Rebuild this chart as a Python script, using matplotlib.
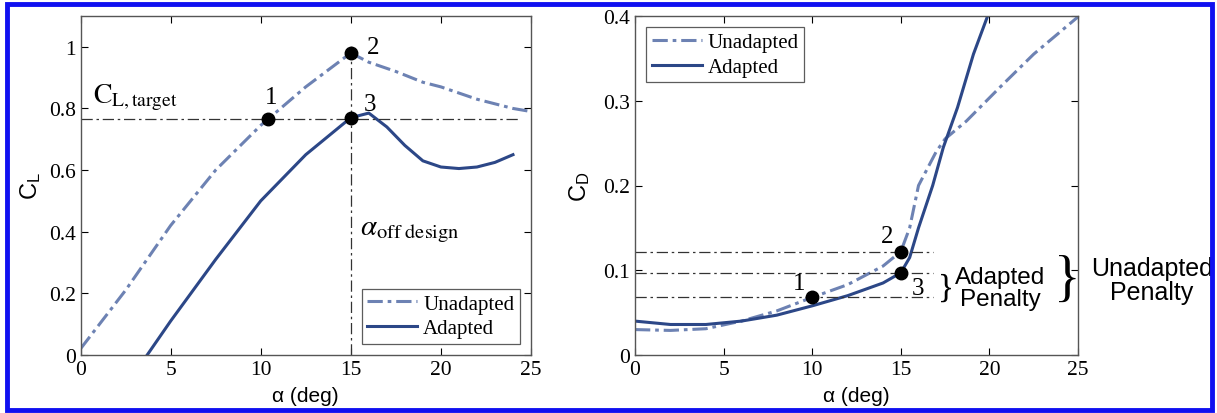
import numpy as np
import matplotlib
matplotlib.use("Agg")
import matplotlib.pyplot as plt
from matplotlib.patches import Rectangle

plt.rcParams["font.family"] = "Liberation Serif"
plt.rcParams["mathtext.fontset"] = "stix"

UNADAPTED_COLOR = "#6d82b3"
ADAPTED_COLOR = "#2c4787"

# lift curve data (left panel)
cl_alpha_unadapted = [0, 2.5, 5, 7.5, 10, 10.4, 12.5, 15, 16, 17.5, 19, 20, 22, 24, 25]
cl_unadapted = [0.02, 0.21, 0.42, 0.60, 0.745, 0.765, 0.87, 0.98, 0.95, 0.92, 0.885, 0.87, 0.83, 0.80, 0.79]
cl_alpha_adapted = [3.7, 5, 7.5, 10, 12.5, 15, 16, 17, 18, 19, 20, 21, 22, 23, 24]
cl_adapted = [0.0, 0.11, 0.31, 0.50, 0.65, 0.77, 0.785, 0.74, 0.68, 0.63, 0.61, 0.605, 0.61, 0.625, 0.65]
cl_target = 0.765
alpha_off = 15
cl_points_alpha = [10.4, 15, 15]
cl_points = [0.765, 0.98, 0.77]

# drag curve data (right panel)
cd_alpha_unadapted = [0, 2, 4, 6, 8, 10, 12, 14, 15, 15.5, 16, 17, 17.5, 18.7, 20.6, 22.5, 25]
cd_unadapted = [0.030, 0.029, 0.031, 0.040, 0.052, 0.068, 0.083, 0.105, 0.122, 0.15, 0.20, 0.24, 0.255, 0.276, 0.316, 0.355, 0.399]
cd_alpha_adapted = [0, 2, 4, 6, 8, 10, 12, 14, 15, 15.5, 16, 16.8, 17.4, 18.2, 19.1, 19.9]
cd_adapted = [0.040, 0.036, 0.036, 0.040, 0.047, 0.058, 0.070, 0.085, 0.097, 0.115, 0.15, 0.20, 0.245, 0.292, 0.355, 0.40]
cd_levels = [0.122, 0.097, 0.068]
cd_points_alpha = [10, 15, 15]
cd_points = [0.068, 0.122, 0.097]

W, H = 1217, 414
fig = plt.figure(figsize=(W / 100, H / 100), dpi=100)
ax1 = fig.add_axes([80.5 / W, 1 - 356 / H, (531 - 80.5) / W, (356 - 17) / H])
ax2 = fig.add_axes([635 / W, 1 - 356 / H, (1078 - 635) / W, (356 - 17) / H])

dash_unadapted = (0, (5, 1.6, 1.2, 1.6))
dash_ref = (0, (9, 3, 2, 3))

for ax in (ax1, ax2):
    ax.tick_params(direction="in", top=True, right=True, labelsize=15.5, length=5, width=0.8)
    for s in ax.spines.values():
        s.set_color("#555555")
        s.set_linewidth(1.0)

# left panel
ax1.plot(cl_alpha_unadapted, cl_unadapted, color=UNADAPTED_COLOR, lw=2.2, linestyle=dash_unadapted, label="Unadapted")
ax1.plot(cl_alpha_adapted, cl_adapted, color=ADAPTED_COLOR, lw=2.2, label="Adapted")
ax1.plot([0, 24.3], [cl_target, cl_target], color="#333333", lw=0.9, linestyle=dash_ref)
ax1.plot([alpha_off, alpha_off], [0, 1.01], color="#333333", lw=0.9, linestyle=dash_ref)
ax1.plot(cl_points_alpha, cl_points, "o", color="black", ms=9, zorder=5)
ax1.text(10.6, 0.80, "1", fontsize=18, ha="center", va="bottom")
ax1.text(15.9, 0.965, "2", fontsize=18, ha="left", va="bottom")
ax1.text(15.7, 0.78, "3", fontsize=18, ha="left", va="bottom")
ax1.text(0.7, 0.79, r"$\mathrm{C}_{\mathrm{L,target}}$", fontsize=20, va="bottom")
ax1.text(15.5, 0.36, r"$\alpha_{\mathrm{off\ design}}$", fontsize=21, va="bottom")
ax1.set_xlim(0, 25)
ax1.set_ylim(0, 1.1)
ax1.set_xticks([0, 5, 10, 15, 20, 25])
ax1.set_yticks([0, 0.2, 0.4, 0.6, 0.8, 1.0])
ax1.set_yticklabels(["0", "0.2", "0.4", "0.6", "0.8", "1"])
ax1.set_xlabel("α (deg)", fontfamily="Liberation Sans", fontsize=15, labelpad=5)
ax1.set_ylabel(r"$\mathregular{C_L}$", fontfamily="Liberation Sans", fontsize=17, labelpad=4)
leg1 = ax1.legend(loc="lower right", fontsize=15, frameon=True, fancybox=False, edgecolor="#333333",
                  handlelength=2.4, borderpad=0.25, labelspacing=0.25, handletextpad=0.3, borderaxespad=0.55)
leg1.get_frame().set_linewidth(0.9)

# right panel
ax2.plot(cd_alpha_unadapted, cd_unadapted, color=UNADAPTED_COLOR, lw=2.2, linestyle=dash_unadapted, label="Unadapted")
ax2.plot(cd_alpha_adapted, cd_adapted, color=ADAPTED_COLOR, lw=2.2, label="Adapted")
for lvl in cd_levels:
    ax2.plot([0, 16.8], [lvl, lvl], color="#333333", lw=0.9, linestyle=dash_ref)
ax2.plot(cd_points_alpha, cd_points, "o", color="black", ms=9, zorder=5)
ax2.text(9.6, 0.072, "1", fontsize=18, ha="right", va="bottom")
ax2.text(14.6, 0.128, "2", fontsize=18, ha="right", va="bottom")
ax2.text(15.6, 0.066, "3", fontsize=18, ha="left", va="bottom")
ax2.text(17.1, 0.080, "}", fontsize=24, ha="left", va="center")
ax2.text(20.6, 0.079, "Adapted\nPenalty", fontfamily="Liberation Sans", fontsize=17.5,
         ha="center", va="center", linespacing=1.0)
ax2.text(23.65, 0.088, "}", fontsize=40, ha="left", va="center")
ax2.text(1152 / W, 1 - 281 / H, "Unadapted\nPenalty", transform=fig.transFigure,
         fontfamily="Liberation Sans", fontsize=18, ha="center", va="center", linespacing=1.0)
ax2.set_xlim(0, 25)
ax2.set_ylim(0, 0.4)
ax2.set_xticks([0, 5, 10, 15, 20, 25])
ax2.set_yticks([0, 0.1, 0.2, 0.3, 0.4])
ax2.set_yticklabels(["0", "0.1", "0.2", "0.3", "0.4"])
ax2.set_xlabel("α (deg)", fontfamily="Liberation Sans", fontsize=15, labelpad=5)
ax2.set_ylabel(r"$\mathregular{C_D}$", fontfamily="Liberation Sans", fontsize=17, labelpad=8)
leg2 = ax2.legend(loc="upper left", fontsize=15, frameon=True, fancybox=False, edgecolor="#333333",
                  handlelength=2.4, borderpad=0.25, labelspacing=0.25, handletextpad=0.3, borderaxespad=0.55)
leg2.get_frame().set_linewidth(0.9)

for ax in (ax1, ax2):
    for lab in ax.get_xticklabels() + ax.get_yticklabels():
        lab.set_fontfamily("Liberation Serif")

# blue frame round the figure
fig.patches.append(Rectangle((7 / W, 3 / H), 1205 / W, 406 / H, transform=fig.transFigure,
                             fill=False, edgecolor="#1010f0", linewidth=3.5))

fig.savefig("out.png", dpi=100)
